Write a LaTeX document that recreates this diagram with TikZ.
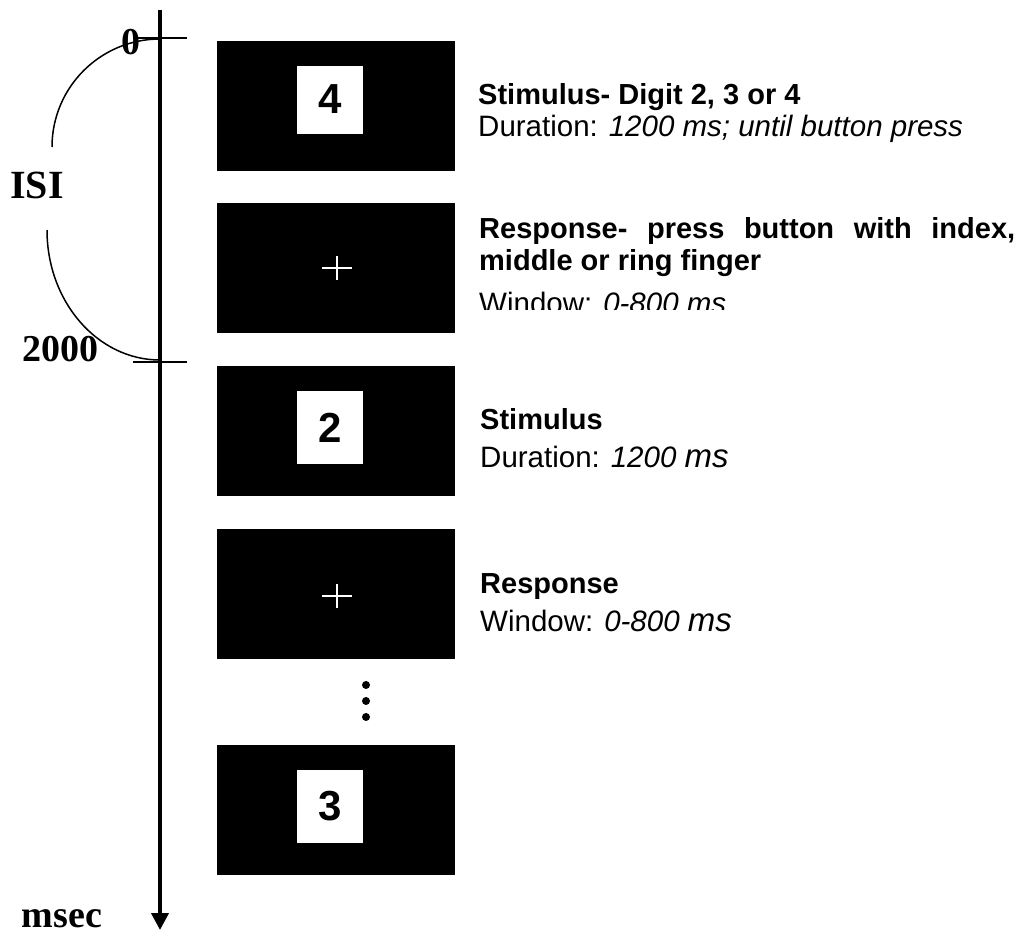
\documentclass[tikz,border=0pt]{standalone}
\usepackage{fontspec}
\setmainfont{Liberation Sans}
\newfontfamily\serifb{Liberation Serif}
\usetikzlibrary{arrows.meta}
\begin{document}
\begin{tikzpicture}[x=1pt,y=-1pt,
  screen/.style={fill=black,draw=none,minimum width=238pt,minimum height=130pt,inner sep=0pt},
  square/.style={fill=white,draw=none,minimum width=66pt,minimum height=68pt,inner sep=0pt,
                 font=\fontsize{42}{42}\selectfont\bfseries},
  crossline/.style={white,line width=2pt},
  axislabel/.style={font=\fontsize{38}{38}\selectfont\serifb\bfseries,inner sep=0pt},
  tick/.style={line width=1.5pt},
  isiarc/.style={line width=1.5pt},
  hd/.style={anchor=base west,inner sep=0pt,font=\fontsize{29}{33}\selectfont\bfseries},
  tx/.style={anchor=base west,inner sep=0pt,font=\fontsize{29.5}{33}\selectfont},
  dot/.style={circle,fill=black,inner sep=0pt,minimum size=8pt}]
\useasboundingbox (0,0) rectangle (1024,942);

% time axis
\coordinate (axtop) at (160,10);
\coordinate (axbot) at (160,930);
\draw[line width=4pt,-{Triangle[width=17pt,length=17pt]}] (axtop) -- (axbot);
\coordinate (t0a) at (133,38);  \coordinate (t0b) at (187,38);
\coordinate (t1a) at (133,362); \coordinate (t1b) at (187,362);
\draw[tick] (t0a) -- (t0b);
\draw[tick] (t1a) -- (t1b);

% ISI arcs
\coordinate (arcA) at (52,147);
\coordinate (arcB) at (47,230);
\draw[isiarc] (arcA) arc[start angle=180,end angle=270,radius=108];
\draw[isiarc] (arcB) arc[start angle=180,end angle=90,x radius=113,y radius=130];

% axis labels
\node[axislabel] (l0) at (131,42) {0};
\node[axislabel] (l2000) at (60,349) {2000};
\node[axislabel,font=\fontsize{40}{40}\selectfont\serifb\bfseries] (lisi) at (37,185) {ISI};
\node[axislabel,anchor=base] (lmsec) at (62,927) {msec};

% screens
\node[screen] (s1) at (336,106) {};
\node[screen] (s2) at (336,268) {};
\node[screen] (s3) at (336,431) {};
\node[screen] (s4) at (336,593.5) {};
\node[screen] (s5) at (336,810) {};

\node[square] (d1) at (330,99.5) {4};
\node[square,minimum height=73pt] (d3) at (330,427.5) {2};
\node[square,minimum height=73pt] (d5) at (330,806.5) {3};

\draw[crossline] ([xshift=-14pt]s2.center) -- ([xshift=16pt]s2.center);
\draw[crossline] ([xshift=1pt,yshift=-12pt]s2.center) -- ([xshift=1pt,yshift=12pt]s2.center);
\draw[crossline] ([xshift=-14pt,yshift=-2.5pt]s4.center) -- ([xshift=16pt,yshift=-2.5pt]s4.center);
\draw[crossline] ([xshift=1pt,yshift=-14.5pt]s4.center) -- ([xshift=1pt,yshift=9.5pt]s4.center);

% dots
\node[dot] (dt1) at (366,685) {};
\node[dot] (dt2) at (366,701) {};
\node[dot] (dt3) at (366,717) {};

% texts
\node[hd] (h1) at (478,104) {Stimulus- Digit 2, 3 or 4};
\node[tx] (x1) at (478,136) {Duration: \textit{1200 ms; until button press}};

\node[hd] (h2a) at (479,238) {\makebox[536pt][s]{Response- press button with index,}};
\node[hd] (h2b) at (479,270) {middle or ring finger};
\begin{scope}
  \clip (470,280) rectangle (1024,309);
  \node[tx] (x2) at (479,313) {Window: \textit{0-800 ms}};
\end{scope}

\node[hd] (h3) at (480,429) {Stimulus};
\node[tx] (x3) at (480,467) {Duration: \textit{1200 {\fontsize{33}{33}\selectfont ms}}};

\node[hd] (h4) at (480,593) {Response};
\node[tx] (x4) at (480,631) {Window: \textit{0-800 {\fontsize{33}{33}\selectfont ms}}};
\end{tikzpicture}
\end{document}
